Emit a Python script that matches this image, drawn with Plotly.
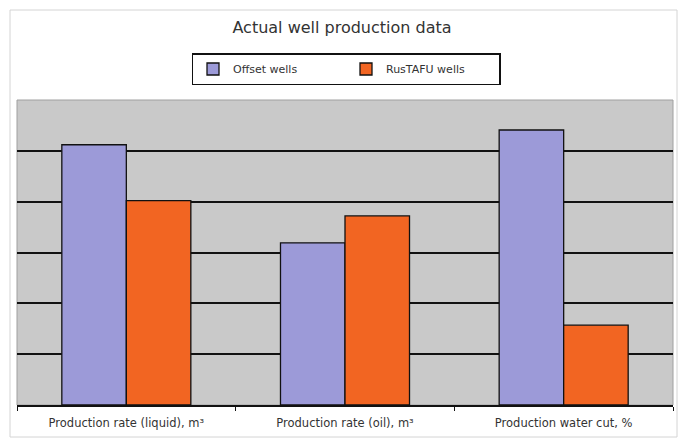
import plotly.graph_objects as go

categories = ["Production rate (liquid), m³", "Production rate (oil), m³", "Production water cut, %"]
offset_wells = [5.12, 3.19, 5.41]
rustafu_wells = [4.02, 3.72, 1.57]
series_names = ["Offset wells", "RusTAFU wells"]

W, H = 678, 438
L, R, T, B = 17, 5, 100, 33

fig = go.Figure()
fig.add_trace(go.Bar(
    x=categories, y=offset_wells, name=series_names[0],
    marker=dict(color="#9c9ad8", line=dict(color="#111111", width=1.3)),
))
fig.add_trace(go.Bar(
    x=categories, y=rustafu_wells, name=series_names[1],
    marker=dict(color="#f26522", line=dict(color="#111111", width=1.3)),
))

pw = W - L - R
ph = H - T - B

def px_x(p):
    return (p - L) / pw

def px_y(p):
    return (H - B - p) / ph

fig.update_layout(
    width=W, height=H,
    margin=dict(l=L, r=R, t=T, b=B),
    paper_bgcolor="white",
    plot_bgcolor="#c9c9c9",
    barmode="group",
    bargap=0.41,
    bargroupgap=0,
    font=dict(family="DejaVu Sans, Verdana, sans-serif", color="#333333"),
    title=dict(
        text="Actual well production data",
        font=dict(size=16, color="#333333"),
        x=px_x(342), xref="paper", xanchor="center",
        y=1 - 27 / H, yref="container", yanchor="middle",
    ),
    legend=dict(
        orientation="h",
        x=px_x(346), xanchor="center",
        y=px_y(53), yanchor="top",
        bordercolor="#111111", borderwidth=1.5,
        bgcolor="white",
        font=dict(size=11, color="#333333"),
        entrywidth=108,
        itemwidth=30,
        traceorder="normal",
    ),
    xaxis=dict(
        showline=True, linecolor="#111111", linewidth=1.5,
        ticks="outside", tickson="boundaries", ticklen=4, tickcolor="#111111",
        ticklabelstandoff=6,
        tickfont=dict(size=11.5, color="#333333"),
        showgrid=False,
    ),
    yaxis=dict(
        range=[0, 6], dtick=1,
        showticklabels=False,
        showgrid=True, gridcolor="#111111", gridwidth=1.5,
        zeroline=False, showline=False, ticks="",
    ),
    shapes=[
        # outer chart frame
        dict(type="rect", xref="paper", yref="paper",
             x0=px_x(10), x1=px_x(677), y0=px_y(437), y1=px_y(10),
             line=dict(color="#d4d4d4", width=1), layer="below"),
        # plot area border
        dict(type="rect", xref="paper", yref="paper",
             x0=0, x1=1, y0=0, y1=1,
             line=dict(color="#a0a0a0", width=1), layer="below"),
    ],
)

fig.write_html("out.html")
